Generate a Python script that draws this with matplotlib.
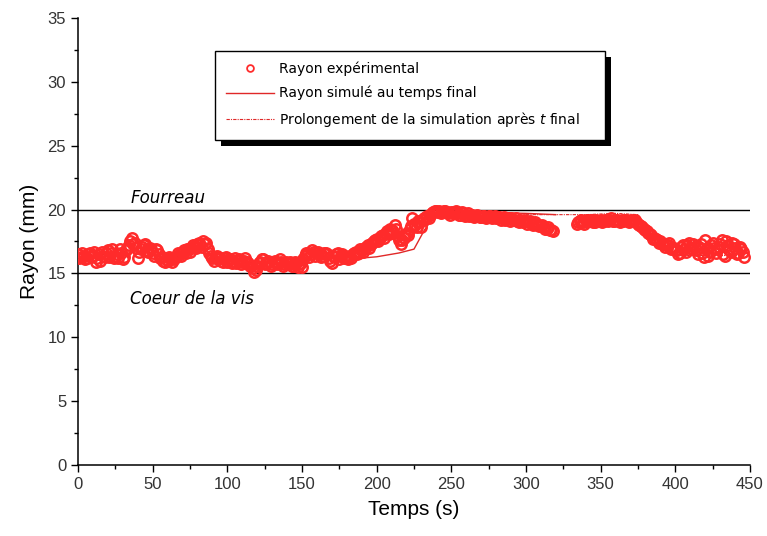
import numpy as np
import matplotlib
matplotlib.use('Agg')
import matplotlib.pyplot as plt
from matplotlib.patches import Rectangle
from matplotlib.transforms import IdentityTransform

plt.rcParams['font.family'] = ['Liberation Sans', 'DejaVu Sans']

#### DATA

# experimental radius, first part (t = 0 .. 318 s, even seconds)
t_exp_a = [0, 2, 4, 6, 8, 10, 12, 14, 16, 18, 20, 22, 24, 26, 28, 30,
           32, 34, 36, 38, 40, 42, 44, 46, 48, 50, 52, 54, 56,
           58, 60, 62, 64, 66, 68, 70, 72, 74, 76, 78, 80, 82, 84, 86,
           88, 90, 92, 94, 96, 98, 100, 102, 104, 106, 108, 110, 112, 114, 116, 118,
           120, 122, 124, 126, 128, 130, 132, 134, 136, 138, 140, 142, 144, 146, 148, 150,
           152, 154, 156, 158, 160, 162, 164, 166, 168, 170, 172, 174, 176, 178, 180,
           182, 184, 186, 188, 190, 192, 194, 196, 198, 200, 202, 204, 206, 208, 210, 212, 214,
           216, 218, 220, 222, 224, 226, 228, 230, 232, 234, 236, 238, 240,
           242, 244, 246, 248, 250, 252, 254, 256, 258, 260, 262, 264, 266, 268, 270,
           272, 274, 276, 278, 280, 282, 284, 286, 288, 290, 292, 294, 296, 298, 300,
           302, 304, 306, 308, 310, 312, 314, 316, 318]
r_exp_a = [16.5, 16.3, 16.4, 16.2, 16.6, 16.4, 15.9, 16.5, 16.7, 16.3, 16.8, 16.6, 16.2, 16.5, 16.9, 16.1,
           16.8, 17.2, 17.8, 17.4, 16.2, 16.9, 17.2, 16.8, 17.0, 16.6, 16.9, 16.5, 16.3,
           15.9, 16.0, 16.2, 16.1, 16.4, 16.5, 16.7, 16.6, 16.9, 17.0, 17.1, 17.3, 17.2, 17.5, 17.4,
           16.6, 16.2, 16.3, 16.1, 16.0, 16.2, 15.9, 16.1, 16.0, 15.8, 16.1, 15.9, 16.2, 15.8, 15.6, 15.1,
           15.6, 15.9, 16.1, 15.8, 15.9, 15.7, 16.0, 15.8, 15.9, 15.7, 15.8, 15.9, 15.6, 15.8, 15.7, 15.5,
           16.4, 16.6, 16.5, 16.7, 16.6, 16.5, 16.4, 16.6, 16.2, 15.8, 16.3, 16.6, 16.4, 16.2, 16.3,
           16.4, 16.5, 16.7, 16.6, 16.8, 17.0, 17.2, 17.3, 17.5, 17.7, 17.8, 18.0, 18.2, 18.1, 18.4, 18.8, 17.9,
           17.3, 17.8, 18.2, 18.5, 19.3, 18.8, 19.1, 18.6, 19.3, 19.5, 19.6, 19.8, 19.9,
           19.9, 19.8, 19.9, 19.7, 19.8, 19.8, 19.7, 19.6, 19.7, 19.6, 19.5, 19.6, 19.5, 19.5, 19.4,
           19.5, 19.4, 19.5, 19.4, 19.3, 19.4, 19.3, 19.2, 19.3, 19.3, 19.2, 19.1, 19.2, 19.0, 19.1,
           19.0, 18.9, 19.0, 18.8, 18.7, 18.6, 18.5, 18.4, 18.3]

# experimental radius, first part (odd seconds)
t_exp_a_odd = [1, 3, 5, 7, 9, 11, 13, 15, 17, 19, 21, 23, 25, 27, 29, 31,
               33, 35, 37, 39, 41, 43, 45, 47, 49, 51, 53, 55, 57,
               59, 61, 63, 65, 67, 69, 71, 73, 75, 77, 79, 81, 83, 85, 87,
               89, 91, 93, 95, 97, 99, 101, 103, 105, 107, 109, 111, 113, 115, 117, 119,
               121, 123, 125, 127, 129, 131, 133, 135, 137, 139, 141, 143, 145, 147, 149, 151,
               153, 155, 157, 159, 161, 163, 165, 167, 169, 171, 173, 175, 177, 179, 181,
               183, 185, 187, 189, 191, 193, 195, 197, 199, 201, 203, 205, 207, 209, 211, 213, 215,
               217, 219, 221, 223, 225, 227, 229, 231, 233, 235, 237, 239, 241,
               243, 245, 247, 249, 251, 253, 255, 257, 259, 261, 263, 265, 267, 269, 271,
               273, 275, 277, 279, 281, 283, 285, 287, 289, 291, 293, 295, 297, 299, 301,
               303, 305, 307, 309, 311, 313, 315, 317]
r_exp_a_odd = [16.2, 16.6, 16.1, 16.5, 16.3, 16.7, 16.2, 16.0, 16.4, 16.6, 16.3, 16.9, 16.4, 16.2, 16.6, 16.3,
               17.0, 17.5, 17.3, 17.0, 16.7, 17.1, 17.3, 16.7, 16.9, 16.4, 16.8, 16.2, 16.0,
               16.1, 16.3, 15.9, 16.3, 16.6, 16.4, 16.8, 16.9, 16.7, 17.2, 17.0, 17.4, 17.1, 17.3, 16.9,
               16.4, 16.0, 16.4, 16.2, 15.9, 16.3, 16.1, 15.8, 16.2, 16.0, 15.7, 16.0, 15.9, 15.6, 15.4, 15.3,
               15.8, 16.1, 15.7, 16.0, 15.6, 15.9, 15.7, 16.1, 15.6, 15.9, 15.7, 15.6, 15.9, 15.5, 15.8, 16.1,
               16.6, 16.3, 16.8, 16.4, 16.7, 16.3, 16.6, 16.5, 16.0, 16.4, 16.5, 16.1, 16.5, 16.4, 16.1,
               16.2, 16.6, 16.5, 16.9, 16.7, 17.1, 17.0, 17.4, 17.6, 17.5, 17.9, 17.8, 18.3, 18.5, 18.2, 18.5, 17.6,
               17.6, 18.0, 18.0, 18.7, 18.9, 18.6, 19.0, 19.2, 19.4, 19.3, 19.7, 19.9, 19.8,
               19.7, 19.9, 19.8, 19.6, 19.7, 19.9, 19.6, 19.8, 19.5, 19.7, 19.6, 19.4, 19.6, 19.4, 19.5,
               19.3, 19.5, 19.3, 19.5, 19.4, 19.2, 19.4, 19.3, 19.1, 19.2, 19.3, 19.0, 19.1, 19.2, 18.9,
               19.1, 18.8, 18.9, 18.7, 18.8, 18.5, 18.6, 18.4]

# experimental radius, second part (t = 334 .. 446 s)
t_exp_b = [334, 336, 338, 340, 342, 344, 346, 348, 350, 352, 354, 356, 358, 360, 362, 364,
           366, 368, 370, 372, 374, 376,
           378, 380, 382, 384, 386, 388, 390, 392, 394, 396, 398, 400,
           402, 404, 406, 408, 410, 412, 414, 416, 418, 420, 422, 424, 426, 428, 430, 432,
           434, 436, 438, 440, 442, 444, 446]
r_exp_b = [18.9, 19.1, 19.0, 19.2, 19.1, 19.2, 19.0, 19.1, 19.2, 19.1, 19.2, 19.2, 19.1, 19.2, 19.1, 19.2,
           19.2, 19.1, 19.2, 19.1, 19.0, 18.8,
           18.6, 18.4, 18.2, 18.0, 17.8, 17.6, 17.5, 17.3, 17.2, 17.4, 17.0, 16.8,
           16.5, 17.1, 16.9, 17.2, 17.0, 17.3, 16.8, 17.1, 16.6, 17.6, 16.4, 17.2, 17.0, 16.9, 17.3, 16.5,
           17.5, 16.8, 17.4, 17.0, 16.6, 16.9, 16.3]

t_exp_b_odd = [335, 337, 339, 341, 343, 345, 347, 349, 351, 353, 355, 357, 359, 361, 363, 365,
               367, 369, 371, 373, 375,
               377, 379, 381, 383, 385, 387, 389, 391, 393, 395, 397, 399,
               401, 403, 405, 407, 409, 411, 413, 415, 417, 419, 421, 423, 425, 427, 429, 431,
               433, 435, 437, 439, 441, 443, 445]
r_exp_b_odd = [19.0, 19.2, 18.9, 19.1, 19.2, 19.0, 19.2, 19.1, 19.0, 19.2, 19.1, 19.3, 19.1, 19.2, 19.0, 19.1,
               19.2, 19.0, 19.1, 19.2, 18.9,
               18.7, 18.5, 18.3, 18.1, 17.7, 17.7, 17.4, 17.4, 17.1, 17.2, 16.9, 17.0,
               16.8, 16.6, 17.2, 16.7, 17.4, 16.9, 17.1, 16.5, 17.3, 16.3, 17.0, 16.7, 17.4, 16.6, 17.1, 17.6,
               16.4, 17.2, 16.7, 17.3, 16.5, 17.1, 16.7]

# simulated radius at final time
t_sim = [0, 20, 35, 50, 60, 85, 90, 120, 150, 155, 190, 200, 215, 225, 232, 240, 260, 300, 320]
r_sim = [16.3, 16.5, 16.8, 16.6, 16.1, 16.9, 16.2, 15.8, 15.8, 16.3, 16.2, 16.3, 16.6, 16.9, 18.4, 19.7, 19.8, 19.7, 19.6]

# simulation continued after final time
t_prol = [300, 320, 340, 360, 375, 381, 386, 391, 396, 410, 425, 440]
r_prol = [19.6, 19.6, 19.6, 19.7, 19.6, 18.4, 17.6, 17.0, 16.5, 16.4, 16.4, 16.4]

r_fourreau = 20
r_coeur = 15

#### PLOT

red = '#ff2b2b'

fig = plt.figure(figsize=(7.67, 5.36), dpi=100)
ax = fig.add_axes([0.1017, 0.1325, 0.8761, 0.834])

ax.axhline(r_fourreau, color='k', lw=1.0, zorder=1)
ax.axhline(r_coeur, color='k', lw=1.0, zorder=1)

t_exp = t_exp_a + t_exp_a_odd + t_exp_b + t_exp_b_odd
r_exp = r_exp_a + r_exp_a_odd + r_exp_b + r_exp_b_odd

ax.plot(t_exp, r_exp, ls='none', marker='o', ms=7.5, mfc='none',
        mec=red, mew=1.8, label=u'Rayon expérimental', zorder=3)
ax.plot(t_sim, r_sim, color='#e02828', lw=1.0, label=u'Rayon simulé au temps final', zorder=2)
ax.plot(t_prol, r_prol, color='#e02828', lw=0.8, ls=(0, (3, 1, 1, 1)),
        label=u'Prolongement de la simulation après $\\it{t}$ final', zorder=2)

ax.text(35, 20.2, 'Fourreau', fontsize=12, style='italic', family='DejaVu Sans', va='bottom')
ax.text(35, 13.0, 'Coeur de la vis', fontsize=12, style='italic', family='DejaVu Sans', va='center')

ax.set_xlim(0, 450)
ax.set_ylim(0, 35)
ax.set_xticks(np.arange(0, 451, 50))
ax.set_xticks(np.arange(25, 450, 50), minor=True)
ax.set_yticks(np.arange(0, 36, 5))
ax.set_yticks(np.arange(2.5, 35, 5), minor=True)

ax.spines['top'].set_visible(False)
ax.spines['right'].set_visible(False)
ax.spines['left'].set_linewidth(1.1)
ax.spines['bottom'].set_linewidth(1.1)
ax.tick_params(which='major', direction='out', length=5, width=1.0, labelsize=12, colors='k', labelcolor='#333333')
ax.tick_params(which='minor', direction='out', length=3, width=1.0)

ax.set_xlabel('Temps (s)', fontsize=15, labelpad=6)
ax.set_ylabel('Rayon (mm)', fontsize=15, labelpad=6)

leg = ax.legend(loc='lower left', bbox_to_anchor=(0.194, 0.711, 0.60, 0.2), mode='expand',
                frameon=True, fancybox=False, edgecolor='k', framealpha=1, markerscale=0.65,
                handlelength=3.4, handletextpad=0.4, labelspacing=0.7, borderpad=0.8,
                prop={'family': 'DejaVu Sans', 'size': 10})
leg.get_frame().set_linewidth(1.0)
leg.set_zorder(6)
leg.legend_handles[0].set_markeredgewidth(1.3)

# black drop shadow behind the legend box
fig.canvas.draw()
bb = leg.get_window_extent()
ax.add_patch(Rectangle((bb.x0 + 6, bb.y0 - 6), bb.width, bb.height, facecolor='k',
                       edgecolor='none', transform=IdentityTransform(), clip_on=False, zorder=5))

fig.savefig('out.png', dpi=100)
